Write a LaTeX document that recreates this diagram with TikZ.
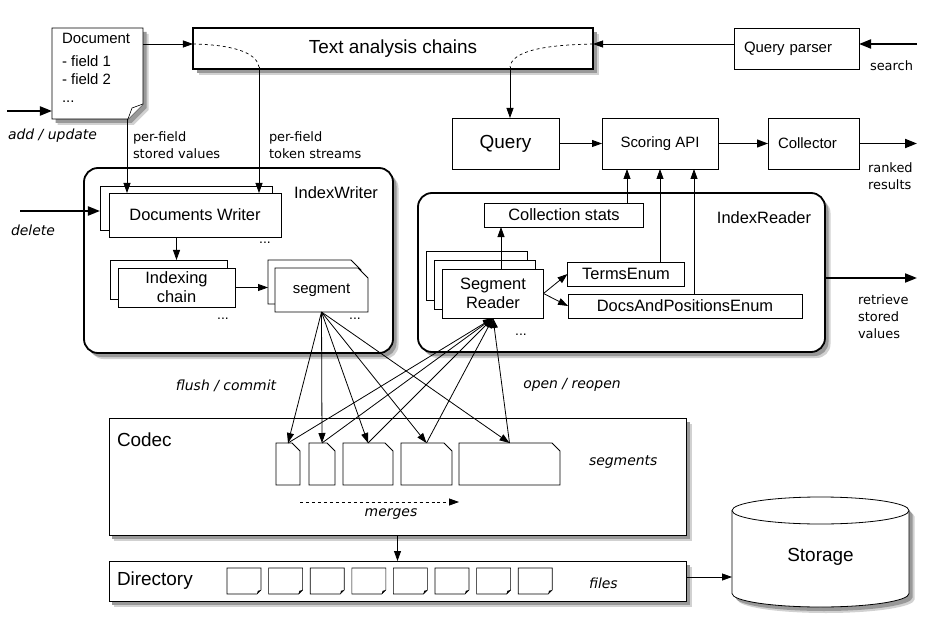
\documentclass[tikz,border=0pt]{standalone}
\usepackage{fontspec}
\setmainfont{Liberation Sans}
\newfontfamily\notefont{DejaVu Sans}[ItalicFont={DejaVu Sans Oblique}]
\usepackage{tikz}
\usetikzlibrary{arrows.meta,backgrounds,positioning}
\tikzstyle{arr} = [-{Triangle[length=10bp,width=7bp]}, line width=0.8bp]
\tikzstyle{marr} = [-{Triangle[length=11bp,width=8bp]}, line width=1.3bp]
\tikzstyle{tarr} = [-{Triangle[length=12bp,width=9bp]}, line width=1.8bp]
\tikzstyle{dshadow} = [preaction={fill=black!18, transform canvas={xshift=5.5bp, yshift=-6bp}},
                       preaction={fill=black!40, transform canvas={xshift=3.5bp, yshift=-4bp}}]
\tikzstyle{box} = [draw, fill=white, line width=0.8bp, inner sep=0pt, outer sep=0pt, font=\fontsize{15}{18}\selectfont]
\tikzstyle{mbox} = [box, font=\fontsize{16.5}{19}\selectfont]
\tikzstyle{ghost} = [inner sep=0pt, outer sep=0pt]
\tikzstyle{container} = [draw, fill=white, line width=1.8bp, rounded corners=14bp, dshadow]
\tikzstyle{note} = [ghost, align=left, font=\notefont\fontsize{13}{17}\selectfont]
\tikzstyle{inote} = [ghost, font=\notefont\itshape\fontsize{14}{17}\selectfont]
\tikzstyle{ellip} = [ghost, font=\fontsize{14}{17}\selectfont]

\begin{document}
\begin{tikzpicture}[x=1bp, y=-1bp]
\useasboundingbox (0,0) rectangle (936,626);

% Containers
\begin{scope}[on background layer]
\node[container, minimum width=309bp, minimum height=185bp] (iw) at (238.5,260.5) {};
\node[container, minimum width=407bp, minimum height=159bp] (ir) at (621.5,272.5) {};
\node[box, dshadow, minimum width=577bp, minimum height=117bp] (codec) at (397.5,476.5) {};
\node[box, dshadow, minimum width=577bp, minimum height=40bp] (dir) at (397.5,581) {};
\end{scope}

% Top row
\node[box, dshadow, line width=2.4bp, minimum width=400bp, minimum height=41bp, font=\fontsize{19}{22}\selectfont] (ta) at (393,48.5) {Text analysis chains};
\node[box, text width=105bp, inner xsep=10bp, minimum height=41bp, align=left] (qp) at (796.5,48.5) {Query parser};
\node[box, minimum width=107bp, minimum height=51bp, font=\fontsize{19}{22}\selectfont] (query) at (505.5,143.5) {Query};
\node[box, minimum width=116bp, minimum height=51bp] (scoring) at (660,143.5) {Scoring API};
\node[box, text width=71bp, inner xsep=10bp, minimum height=51bp, align=left] (collector) at (813.5,143.5) {Collector};

% Document
\node[ghost, minimum width=91bp, minimum height=91bp] (doc) at (97.5,73.5) {};
\node[ghost, anchor=north west, align=left, font=\fontsize{15}{18}\selectfont] (doctext) at (62,33) {Document\\[5bp]- field 1\\- field 2\\...};
\begin{scope}[on background layer]
\draw[fill=white, line width=0.8bp, dshadow] (doc.north west) -- (doc.north east) -- ([yshift=15bp]doc.south east) -- ([xshift=-15bp]doc.south east) -- (doc.south west) -- cycle;
\draw[fill=white, line width=0.6bp] ([xshift=-15bp]doc.south east) -- ([xshift=-11bp,yshift=11bp]doc.south east) -- ([yshift=15bp]doc.south east);
\end{scope}

% IndexWriter
\node[ghost, font=\fontsize{16.5}{19}\selectfont] (iwlabel) at (336,193) {IndexWriter};
\node[mbox, minimum width=172bp, minimum height=44bp] (dw) at (195,215) {Documents Writer};
\node[mbox, minimum width=117bp, minimum height=39bp, align=center] (ic) at (176.5,287.5) {Indexing\\chain};
\node[ghost, minimum width=93bp, minimum height=44bp, font=\fontsize{15}{18}\selectfont] (seg) at (321.5,290) {segment};
\begin{scope}[on background layer]
\node[box, minimum width=172bp, minimum height=44bp] (dwb) at (186,208) {};
\node[box, minimum width=117bp, minimum height=39bp] (icb) at (168.5,279.5) {};
\node[ghost, minimum width=93bp, minimum height=44bp] (segb) at (314.5,282) {};
\foreach \n in {segb,seg}
  \draw[fill=white, line width=0.8bp] (\n.south west) -- (\n.north west) -- ([xshift=-10bp]\n.north east) -- ([yshift=-10bp]\n.north east) -- (\n.south east) -- cycle;
\end{scope}
\node[ellip] (dwdots) at (265,243) {...};
\node[ellip] (icdots) at (223,319) {...};
\node[ellip] (segdots) at (355,319) {...};

% IndexReader
\node[ghost, font=\fontsize{16.5}{19}\selectfont] (irlabel) at (764,218) {IndexReader};
\node[mbox, minimum width=159bp, minimum height=24bp] (cstats) at (564,215) {Collection stats};
\node[mbox, minimum width=101bp, minimum height=49bp, align=center] (sr) at (493,293.5) {Segment\\Reader};
\node[mbox, minimum width=117bp, minimum height=24bp] (terms) at (626,274) {TermsEnum};
\node[mbox, minimum width=234bp, minimum height=24bp] (docspos) at (685,306) {DocsAndPositionsEnum};
\begin{scope}[on background layer]
\node[box, minimum width=101bp, minimum height=49bp] (srbb) at (476.5,275.5) {};
\node[box, minimum width=101bp, minimum height=49bp] (srb) at (484.5,284.5) {};
\end{scope}
\node[ellip] (srdots) at (521,335) {...};

% Codec
\node[ghost, anchor=west, font=\fontsize{19}{22}\selectfont] (codeclabel) at (117,440) {Codec};
\foreach \n/\x/\w in {s1/288/24, s2/322/26, s3/368/50, s4/426.5/51, s5/509.5/101}
  \node[ghost, minimum width=\w bp, minimum height=42bp] (\n) at (\x,464) {};
\begin{scope}[on background layer]
\foreach \n in {s1,s2,s3,s4,s5}
  \draw[fill=white, line width=0.8bp] (\n.south west) -- (\n.north west) -- ([xshift=-8bp]\n.north east) -- ([yshift=-8bp]\n.north east) -- (\n.south east) -- cycle;
\end{scope}
\node[inote, anchor=west] (seglbl) at (589,462) {segments};
\node[inote] (mergelbl) at (391,514) {merges};
\draw[arr, dashed] ([yshift=-17bp]s1.south east) -- ([yshift=-17bp]s5.south west);

% Directory
\node[ghost, anchor=west, font=\fontsize{19}{22}\selectfont] (dirlabel) at (117,581) {Directory};
\begin{scope}[on background layer]
\foreach \i in {0,...,7} {
  \draw[fill=white, line width=0.6bp] (227+41.6*\i,568) -- ++(34,0) -- ++(0,22) -- ++(-4,4) -- ++(-30,0) -- cycle;
  \fill (261+41.6*\i,590) -- ++(-4,4) -- ++(0.8,-3.2) -- cycle;
}
\end{scope}
\node[inote, anchor=west] (fileslbl) at (589,583) {files};

% Storage
\node[ghost, minimum width=177bp, minimum height=110bp, font=\fontsize{19}{22}\selectfont] (storage) at (820.5,557) {Storage};
\begin{scope}[on background layer]
\draw[fill=white, line width=0.8bp, dshadow] (732,510.5) -- (732,593.5) arc[start angle=180, end angle=0, x radius=88.5, y radius=13.5] -- (909,510.5) arc[start angle=0, end angle=-180, x radius=88.5, y radius=13.5] -- cycle;
\draw[line width=0.8bp] (909,510.5) arc[start angle=0, end angle=180, x radius=88.5, y radius=13.5];
\end{scope}

% Labels
\node[note, anchor=west] (storedlbl) at (133,145) {per-field\\stored values};
\node[note, anchor=west] (tokenlbl) at (269,145) {per-field\\token streams};
\node[inote, anchor=west] (addlbl) at (8,136) {add / update};
\node[inote, anchor=west] (dellbl) at (11,230) {delete};
\node[note, anchor=west] (searchlbl) at (870,66) {search};
\node[note, anchor=west] (rankedlbl) at (868,176) {ranked\\results};
\node[note, anchor=west] (retrievelbl) at (858,317) {retrieve\\stored\\values};
\node[inote] (flushlbl) at (226,386) {flush / commit};
\node[inote] (openlbl) at (572,385) {open / reopen};

% Connectors
\coordinate (taL) at ([yshift=4.5bp]ta.west);
\coordinate (taR) at ([yshift=4.5bp]ta.east);
\coordinate (tokdn) at (259,67);
\coordinate (qdn) at (510,67);
\coordinate (storedn) at ([xshift=29.5bp]doc.south);
\coordinate (addin) at (7,111);
\coordinate (delin) at (20,211);
\coordinate (searchin) at (917,44);
\coordinate (rankout) at (917,143.5);
\coordinate (retout) at (917,278);
\coordinate (sc1) at ([xshift=-33bp]scoring.south);
\coordinate (sc3) at ([xshift=34bp]scoring.south);

\draw[arr] (doc.east |- taL) -- (taL);
\draw[arr] (qp.west |- taR) -- (taR);
\draw[tarr] (searchin) -- (searchin -| qp.east);
\draw[dashed, line width=0.7bp] (taL) .. controls (240,45) and (257,55) .. (tokdn);
\draw[arr] (tokdn) -- (tokdn |- dw.north);
\draw[dashed, line width=0.7bp] (taR) .. controls (540,45) and (512,52) .. (qdn);
\draw[arr] (qdn) -- (qdn |- query.north);
\draw[arr] (storedn) -- (storedn |- dw.north);
\draw[tarr] (addin) -- (addin -| doc.west);
\draw[tarr] (delin) -- (delin -| dwb.west);
\draw[arr] (dw.south -| ic.north) -- (icb.north -| ic.north);
\draw[arr] (ic.east) -- (ic.east -| segb.west);
\draw[arr] (query) -- (scoring);
\draw[marr] (scoring) -- (collector);
\draw[tarr] (collector) -- (rankout);
\draw[arr] (sc1 |- cstats.north) -- (sc1);
\draw[arr] (scoring.south |- terms.north) -- (scoring.south);
\draw[arr] (sc3 |- docspos.north) -- (sc3);
\draw[arr] ([xshift=8bp]sr.north) -- ([xshift=8bp]sr.north |- cstats.south);
\draw[arr] (sr.east) -- (terms.west);
\draw[arr] (sr.east) -- (docspos.west);
\draw[tarr] (retout -| ir.east) -- (retout);
\foreach \n in {s1,s2,s3,s4,s5} {
  \draw[arr] (seg.south) -- (\n.north);
  \draw[arr] (\n.north) -- (sr.south);
}
\draw[arr] (codec) -- (dir);
\draw[arr] ([yshift=4bp]dir.east) -- ([yshift=4bp]dir.east -| storage.west);
\end{tikzpicture}
\end{document}
